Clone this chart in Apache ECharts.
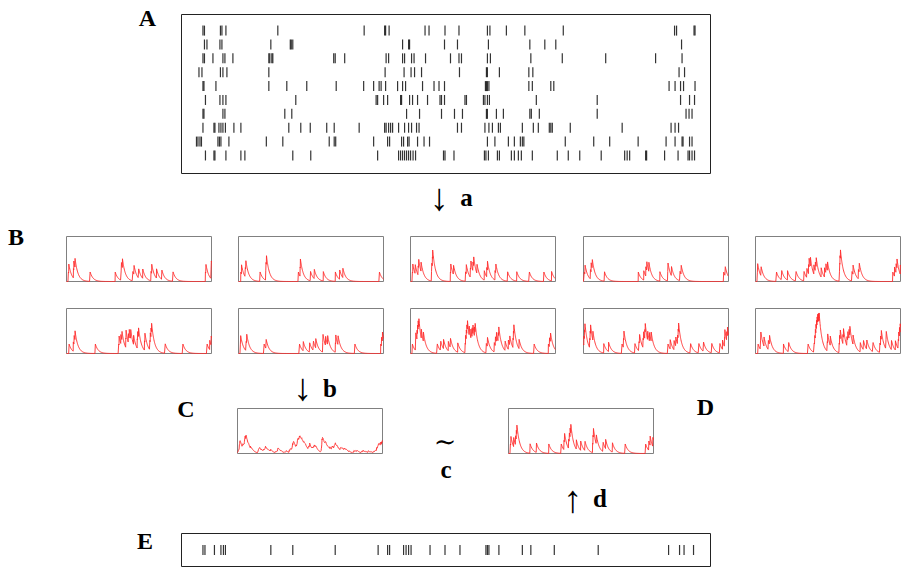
<!DOCTYPE html>
<html><head><meta charset="utf-8">
<script src="https://cdn.jsdelivr.net/npm/echarts@6/dist/echarts.min.js"></script>
<style>html,body{margin:0;padding:0;background:#fff}#c{width:902px;height:569px}</style>
</head><body><div id="c"></div>
<script>
// spike times (ms, 0..1000) of the ten trains in panel A
const spikesA1 = [13,16,48,51,59,163,336,377,379,386,458,466,498,526,583,588,621,658,735,958,962,997,999];
const spikesA2 = [16,21,47,51,149,188,190,193,413,425,427,497,523,585,668,698,720,972];
const spikesA3 = [13,16,33,53,57,73,145,147,151,153,275,278,297,380,385,413,417,431,436,459,509,526,531,583,589,670,733,820,920,973];
const spikesA4 = [5,11,48,53,61,145,378,416,430,437,451,527,581,583,607,666,674,967,978];
const spikesA5 = [13,15,39,145,181,221,280,335,355,366,370,379,403,413,419,453,476,486,497,579,581,583,586,666,673,710,716,947,959,970,976,999];
const spikesA6 = [18,47,53,59,199,360,363,375,383,409,411,427,433,443,463,488,491,497,538,541,575,578,583,587,681,803,970,988,998];
const spikesA7 = [13,15,53,57,177,191,421,447,491,517,533,581,583,601,615,668,671,687,803,981,987,993];
const spikesA8 = [13,35,37,45,49,53,58,75,89,185,209,228,261,276,326,377,380,385,389,393,405,417,425,431,441,446,523,531,578,586,593,605,609,653,675,685,707,710,713,749,853,951,959,966];
const spikesA9 = [0,3,7,10,43,46,49,65,140,173,266,276,279,355,383,387,411,415,423,426,443,456,467,583,598,625,637,649,653,656,739,796,828,885,941,959,973,975,988,993];
const spikesA10 = [18,35,37,59,89,97,193,229,363,405,409,413,417,421,425,429,434,439,495,498,516,577,580,585,603,607,631,637,645,651,673,723,745,768,811,858,863,868,900,902,938,965,985,988,993,998];
// spike times of the single train in panel E
const spikesE = [13,17,36,49,54,58,149,193,278,364,383,387,415,420,425,430,468,498,528,580,583,586,606,653,670,717,805,946,968,977,996];

const trains = [spikesA1,spikesA2,spikesA3,spikesA4,spikesA5,spikesA6,spikesA7,spikesA8,spikesA9,spikesA10];
const panelLetters = ['A','B','C','D','E'];
const stepLetters = ['a','b','c','d'];

// exponential filter applied to a spike train (arrow a / d)
const tau = 20, dt = 1, duration = 1000;
function filterTrain(sp) {
  const out = []; let v = 0; let k = 0; const s = sp.slice().sort((a,b)=>a-b);
  const decay = Math.exp(-dt / tau);
  for (let t = 0; t <= duration; t += dt) {
    v *= decay;
    while (k < s.length && s[k] <= t) { v += 1; k++; }
    out.push([t, v]);
  }
  return out;
}
const traces = trains.map(filterTrain);
// average of the ten filtered trains (arrow b)
const avgTrace = traces[0].map((p, i) => [p[0], traces.reduce((acc, tr) => acc + tr[i][1], 0) / traces.length]);
const eTrace = filterTrain(spikesE);

const grids = [], xAxes = [], yAxes = [], series = [];
function addGrid(g, xr, yr, border, inverse) {
  grids.push(Object.assign({show: true, borderColor: border, borderWidth: 1, backgroundColor: 'transparent', containLabel: false}, g));
  const i = grids.length - 1;
  xAxes.push({type: 'value', gridIndex: i, min: xr[0], max: xr[1], show: false});
  yAxes.push({type: 'value', gridIndex: i, min: yr[0], max: yr[1], show: false, inverse: !!inverse});
  return i;
}
const traceStyle = {color: '#ff2a2a', width: 0.9};
// A
const gA = addGrid({left: 181.5, top: 14.5, width: 529, height: 159}, [-30, 1030], [-1.16, 10.3], '#222', true);
const rasterData = [];
trains.forEach((tr, r) => tr.forEach(t => rasterData.push([t, r])));
series.push({type: 'scatter', xAxisIndex: gA, yAxisIndex: gA, data: rasterData, symbol: 'rect', symbolSize: [1.2, 10], itemStyle: {color: '#000'}, silent: true});
// B
const bLeft = [66.5, 238.5, 410.5, 583.5, 755.5];
const bTop = [236.5, 308.5];
const yMax = 4.8;
traces.forEach((tr, i) => {
  const g = addGrid({left: bLeft[i % 5], top: bTop[Math.floor(i / 5)], width: 145, height: 45}, [0, duration], [0, yMax], '#808080');
  series.push({type: 'line', xAxisIndex: g, yAxisIndex: g, data: tr, showSymbol: false, symbol: 'none', lineStyle: traceStyle, silent: true});
});
// C
const gC = addGrid({left: 237.5, top: 408.5, width: 145, height: 45}, [0, duration], [0, yMax], '#808080');
series.push({type: 'line', xAxisIndex: gC, yAxisIndex: gC, data: avgTrace, showSymbol: false, symbol: 'none', lineStyle: traceStyle, silent: true});
// D
const gD = addGrid({left: 508.5, top: 408.5, width: 145, height: 45}, [0, duration], [0, yMax], '#808080');
series.push({type: 'line', xAxisIndex: gD, yAxisIndex: gD, data: eTrace, showSymbol: false, symbol: 'none', lineStyle: traceStyle, silent: true});
// E
const gE = addGrid({left: 181.5, top: 533.5, width: 529, height: 33}, [-30, 1030], [-1, 1], '#222');
series.push({type: 'scatter', xAxisIndex: gE, yAxisIndex: gE, data: spikesE.map(t => [t, 0]), symbol: 'rect', symbolSize: [1.2, 10], itemStyle: {color: '#000'}, silent: true});

const capFont = 'bold 24px "Liberation Serif"';
const lowFont = 'bold 25px "Liberation Serif"';
const arrowFont = '38px "Liberation Serif"';
function txt(text, x, y, font) {
  return {type: 'text', x: x, y: y, silent: true, style: {text: text, font: font, fill: '#000', align: 'center', verticalAlign: 'middle'}};
}
const graphic = [
  txt(panelLetters[0], 147.5, 17.5, capFont),
  txt(panelLetters[1], 16, 236.5, capFont),
  txt(panelLetters[2], 186, 408.5, capFont),
  txt(panelLetters[3], 705.5, 407, capFont),
  txt(panelLetters[4], 145, 540.5, capFont),
  txt('\u2193', 439, 197, arrowFont),
  txt(stepLetters[0], 466.5, 197, lowFont),
  txt('\u2193', 302.5, 387, arrowFont),
  txt(stepLetters[1], 330, 388, lowFont),
  txt('\u223C', 445, 441, '27px "DejaVu Serif"'),
  txt(stepLetters[2], 446, 469, lowFont),
  txt('\u2191', 572.5, 499, arrowFont),
  txt(stepLetters[3], 600, 498.5, lowFont)
];

const chart = echarts.init(document.getElementById('c'), null, {renderer: 'svg'});
chart.setOption({animation: false, grid: grids, xAxis: xAxes, yAxis: yAxes, series: series, graphic: graphic});
</script></body></html>
